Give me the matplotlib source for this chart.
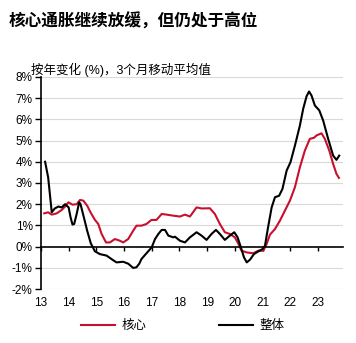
import matplotlib.pyplot as plt

plt.rcParams['font.family'] = ['Liberation Sans', 'Noto Sans CJK SC']
plt.rcParams['axes.unicode_minus'] = False

# 整体 (headline), x in years since 2000
overall_x = [13.15, 13.26, 13.39, 13.5, 13.63, 13.75, 13.87, 14.0, 14.07, 14.14, 14.2,
             14.29, 14.38, 14.43, 14.55, 14.67, 14.8, 14.95, 15.13, 15.37, 15.6, 15.73,
             15.97, 16.15, 16.33, 16.45, 16.55, 16.63, 16.81, 17.0, 17.12, 17.24, 17.36,
             17.48, 17.6, 17.78, 17.84, 18.02, 18.2, 18.38, 18.62, 18.8, 18.98, 19.16,
             19.32, 19.46, 19.64, 19.82, 19.98, 20.1, 20.22, 20.33, 20.43, 20.55, 20.69,
             20.85, 21.0, 21.09, 21.2, 21.33, 21.45, 21.6, 21.72, 21.87, 22.01, 22.17,
             22.35, 22.47, 22.59, 22.68, 22.77, 22.89, 23.05, 23.19, 23.37, 23.55, 23.67,
             23.77]
overall = [4.0, 3.27, 1.62, 1.8, 1.89, 1.85, 2.0, 1.85, 1.38, 1.04, 1.07,
           1.54, 2.09, 2.0, 1.38, 0.75, 0.16, -0.22, -0.35, -0.42, -0.63, -0.74,
           -0.71, -0.8, -1.0, -0.97, -0.8, -0.58, -0.31, -0.03, 0.36, 0.6, 0.79,
           0.79, 0.52, 0.44, 0.47, 0.28, 0.2, 0.44, 0.68, 0.52, 0.32, 0.6,
           0.79, 0.6, 0.32, 0.52, 0.68, 0.44, -0.03, -0.5, -0.74, -0.61, -0.35,
           -0.22, -0.11, 0.05, 0.91, 1.85, 2.33, 2.4, 2.72, 3.58, 3.98, 4.76,
           5.71, 6.5, 7.08, 7.31, 7.12, 6.65, 6.42, 5.94, 5.08, 4.29, 4.09,
           4.29]

# 核心 (core)
core_x = [13.12, 13.26, 13.39, 13.57, 13.75, 13.87, 13.99, 14.14, 14.29, 14.41, 14.53,
          14.67, 14.79, 14.95, 15.07, 15.19, 15.35, 15.49, 15.67, 15.85, 15.97, 16.15,
          16.33, 16.45, 16.63, 16.81, 16.99, 17.17, 17.36, 17.54, 17.78, 18.02, 18.2,
          18.38, 18.62, 18.8, 19.1, 19.28, 19.46, 19.64, 19.82, 20.0, 20.12, 20.24,
          20.43, 20.66, 20.85, 21.03, 21.15, 21.27, 21.45, 21.63, 21.81, 21.99, 22.17,
          22.35, 22.53, 22.71, 22.86, 22.95, 23.13, 23.25, 23.41, 23.55, 23.67, 23.76]
core = [1.57, 1.62, 1.51, 1.57, 1.73, 1.89, 2.09, 1.98, 2.0, 2.2, 2.17,
        1.93, 1.62, 1.26, 1.07, 0.6, 0.2, 0.2, 0.36, 0.28, 0.2, 0.36,
        0.75, 0.99, 0.99, 1.07, 1.26, 1.26, 1.54, 1.51, 1.46, 1.42, 1.51,
        1.42, 1.85, 1.8, 1.81, 1.54, 1.07, 0.68, 0.6, 0.44, 0.16, -0.19,
        -0.27, -0.31, -0.19, -0.19, 0.13, 0.57, 0.83, 1.23, 1.7, 2.17, 2.8,
        3.74, 4.53, 5.08, 5.13, 5.24, 5.34, 5.08, 4.53, 3.9, 3.43, 3.24]

years = list(range(13, 24))
yticks = list(range(-2, 9))

fig = plt.figure(figsize=(3.56, 3.43), dpi=100)
ax = fig.add_axes([0.115, 0.157, 0.848, 0.619])

ax.set_xlim(13, 23.9)
ax.set_ylim(-2, 8)
for v in yticks:
    if v != 0:
        ax.axhline(v, color='#d9d9d9', linewidth=0.8, zorder=0)

ax.plot(core_x, core, color='#C8102E', linewidth=1.5, label='核心')
ax.plot(overall_x, overall, color='black', linewidth=1.5, label='整体')

ax.spines['top'].set_visible(False)
ax.spines['right'].set_visible(False)
ax.spines['bottom'].set_position(('data', 0))
ax.spines['bottom'].set_linewidth(1.2)
ax.spines['left'].set_linewidth(1.2)

ax.set_yticks(yticks)
ax.set_yticklabels([f'{v}%' for v in yticks])
ax.tick_params(axis='y', direction='out', length=4, width=1, labelsize=8.5, pad=2)
ax.set_xticks(years)
ax.tick_params(axis='x', direction='out', length=3, width=1, labelbottom=False)

sec = ax.secondary_xaxis('bottom')
sec.set_xticks(years)
sec.set_xticklabels([str(y) for y in years])
sec.tick_params(length=0, labelsize=8.5, pad=6)
sec.spines['bottom'].set_visible(False)

fig.text(0.024, 0.922, '核心通胀继续放缓，但仍处于高位', fontsize=12, fontweight='bold')
fig.text(0.087, 0.785, '按年变化 (%)，3个月移动平均值', fontsize=9)

fig.legend(loc='center', bbox_to_anchor=(0.513, 0.05), ncol=2, frameon=False,
           handlelength=2.7, columnspacing=5.8, handletextpad=0.55, fontsize=9)

fig.savefig('out.png', dpi=100)
